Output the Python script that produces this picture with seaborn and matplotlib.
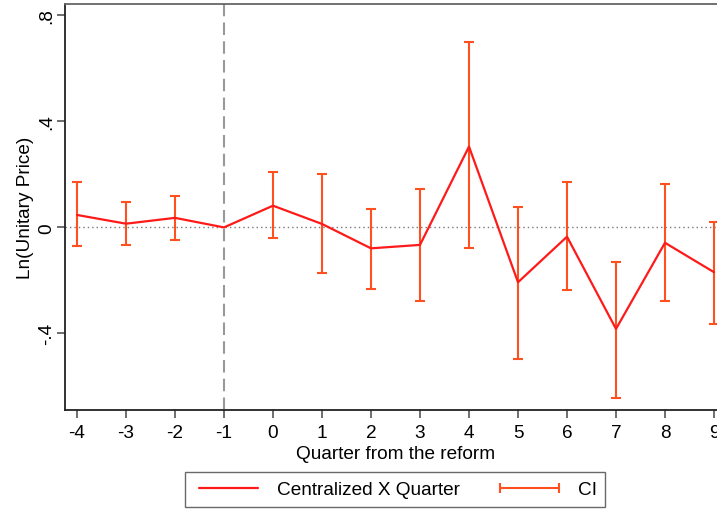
import matplotlib
matplotlib.use("Agg")
import matplotlib.pyplot as plt
from matplotlib.lines import Line2D
import seaborn as sns
import pandas as pd

# Event-study estimates
quarters = [-4, -3, -2, -1, 0, 1, 2, 3, 4, 5, 6, 7, 8, 9]
coef = [0.047, 0.014, 0.036, 0.0, 0.082, 0.013, -0.079, -0.066, 0.305, -0.207, -0.035, -0.383, -0.058, -0.169]
ci_low = [-0.071, -0.066, -0.046, 0.0, -0.041, -0.172, -0.232, -0.277, -0.079, -0.495, -0.238, -0.643, -0.277, -0.364]
ci_high = [0.172, 0.097, 0.119, 0.0, 0.208, 0.202, 0.070, 0.144, 0.699, 0.077, 0.173, -0.129, 0.162, 0.022]
yticks = [-0.4, 0, 0.4, 0.8]
ytick_labels = ["-.4", "0", ".4", ".8"]

df = pd.DataFrame({"quarter": quarters, "coef": coef, "lo": ci_low, "hi": ci_high})
ci_df = df[df["quarter"] != -1]

sns.set_style("white")
plt.rcParams["font.family"] = ["Liberation Sans", "DejaVu Sans"]
plt.rcParams["text.color"] = "black"
plt.rcParams["axes.labelcolor"] = "black"
plt.rcParams["xtick.color"] = "black"
plt.rcParams["ytick.color"] = "black"

line_col = "#ff1a1a"
ci_col = "#ff5020"
fs = 13.7

fig = plt.figure(figsize=(7.17, 5.10), dpi=100)
ax = fig.add_axes([65 / 717, 1 - 411 / 510, (726 - 65) / 717, (411 - 5) / 510])

ax.axhline(0, color="#777777", linestyle=(0, (1, 2.2)), linewidth=1.0, zorder=1)
ax.axvline(-1, color="#999999", linestyle=(0, (6, 3)), linewidth=1.5, zorder=1)

ax.errorbar(ci_df["quarter"], (ci_df["lo"] + ci_df["hi"]) / 2,
            yerr=(ci_df["hi"] - ci_df["lo"]) / 2, fmt="none",
            ecolor=ci_col, elinewidth=1.5, capsize=3.8, capthick=1.5, zorder=2)
sns.lineplot(data=df, x="quarter", y="coef", color=line_col, linewidth=1.6,
             ax=ax, zorder=3, legend=False)

ax.set_xlim(-4.245, 9.245)
ax.set_ylim(-0.689, 0.843)
ax.set_xticks(quarters)
ax.set_xticklabels([str(q) for q in quarters], fontsize=fs)
ax.set_yticks(yticks)
ax.set_yticklabels(ytick_labels, fontsize=fs, rotation=90, va="center")
ax.tick_params(axis="both", direction="out", length=6, width=1.2, color="#555555",
               bottom=True, left=True)
ax.tick_params(axis="x", pad=4)
ax.tick_params(axis="y", pad=1)
ax.set_xlabel("Quarter from the reform", fontsize=fs, labelpad=3)
ax.set_ylabel("Ln(Unitary Price)", fontsize=fs, labelpad=3)

for side in ["left", "bottom"]:
    ax.spines[side].set_color("#222222")
    ax.spines[side].set_linewidth(1.3)
ax.spines["top"].set_color("#666666")
ax.spines["top"].set_linewidth(1.3)
ax.spines["right"].set_visible(False)

handles = [Line2D([], [], color=line_col, linewidth=1.6),
           Line2D([], [], color=ci_col, linewidth=1.5, marker="|", markersize=7,
                  markeredgewidth=1.5)]
leg = fig.legend(handles, ["Centralized X Quarter", "CI"], loc="center",
                 bbox_to_anchor=(395 / 717, 1 - 490.5 / 510), ncol=2, fontsize=fs,
                 frameon=True, fancybox=False, edgecolor="#444444", handlelength=3.7,
                 numpoints=2, columnspacing=1.8, handletextpad=0.7,
                 borderpad=0.45, borderaxespad=0)
leg.get_frame().set_linewidth(1.0)

fig.savefig("out.png", dpi=100)
